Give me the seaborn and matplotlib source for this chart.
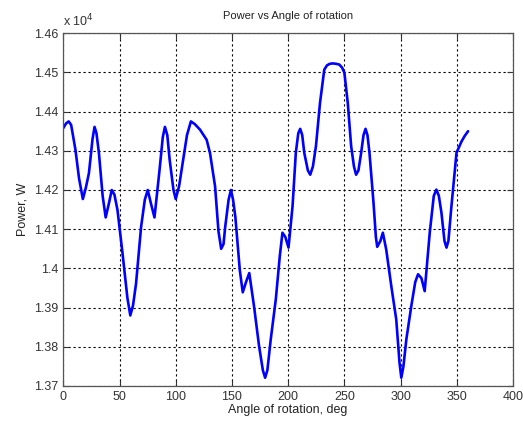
import matplotlib
matplotlib.use("Agg")
import matplotlib.pyplot as plt
import seaborn as sns
import pandas as pd

angle_deg = [0, 2.5, 4.8, 7, 10.8, 14, 17.4, 20, 22.8, 26, 27.8, 29.5, 31.7, 35, 37.7,
             40.5, 43.1, 45.5, 48.2, 52.7, 57, 59.6, 62, 64.7, 69.2, 72.5, 75.1,
             78, 81.1, 85.6, 88.5, 90.4, 92.5, 94.6, 98, 100, 103, 106.6, 110,
             113.5, 117, 121.6, 127.5, 130.5, 135, 138, 140.4, 142.5, 144, 147,
             149.1, 151, 153, 157, 159.6, 162.5, 165.4, 169.6, 174.1, 177.5, 179.5,
             181.5, 184.5, 189, 192.5, 194.9, 197.5, 200.3, 203.9, 206.8, 209, 210.7,
             212.5, 214.3, 217.5, 219.6, 222, 224.7, 228.3, 232.1, 234.5, 237,
             239.6, 242.5, 245.5, 248, 250, 253, 256, 258.5, 260.4, 262.5, 264.9,
             267, 268.8, 270.5, 272.3, 275.9, 278, 279.2, 282, 284.2, 287.2, 291.7,
             296.1, 299, 300.6, 302.5, 305.1, 309.5, 313, 315.5, 318.5, 321.4,
             325.9, 329.5, 331.8, 334, 336.3, 339, 340.8, 342.5, 345.2, 349.7,
             354.2, 357, 360]
power_e4 = [1.4358, 1.4370, 1.4375, 1.4366, 1.4303, 1.4230, 1.4177, 1.4205, 1.4243,
            1.4330, 1.4361, 1.4345, 1.4294, 1.4185, 1.4130, 1.4165, 1.4200, 1.4188,
            1.4149, 1.4038, 1.3925, 1.3880, 1.3905, 1.3961, 1.4106, 1.4175, 1.4200,
            1.4165, 1.4130, 1.4251, 1.4335, 1.4361, 1.4340, 1.4277, 1.4200, 1.4177,
            1.4210, 1.4277, 1.4340, 1.4375, 1.4368, 1.4354, 1.4328, 1.4294, 1.4209,
            1.4095, 1.4050, 1.4062, 1.4106, 1.4175, 1.4200, 1.4175, 1.4132, 1.3995,
            1.3939, 1.3965, 1.3988, 1.3904, 1.3802, 1.3740, 1.3721, 1.3740, 1.3819,
            1.3921, 1.4030, 1.4091, 1.4080, 1.4053, 1.4159, 1.4295, 1.4345, 1.4356,
            1.4340, 1.4295, 1.4250, 1.4239, 1.4260, 1.4312, 1.4422, 1.4507, 1.4518,
            1.4522, 1.4523, 1.4522, 1.4520, 1.4512, 1.4499, 1.4422, 1.4312, 1.4260,
            1.4239, 1.4250, 1.4295, 1.4340, 1.4356, 1.4340, 1.4295, 1.4167, 1.4080,
            1.4055, 1.4070, 1.4091, 1.4048, 1.3955, 1.3870, 1.3760, 1.3721, 1.3750,
            1.3819, 1.3904, 1.3965, 1.3985, 1.3975, 1.3942, 1.4091, 1.4185, 1.4201,
            1.4185, 1.4142, 1.4070, 1.4053, 1.4070, 1.4159, 1.4295, 1.4324, 1.4338,
            1.4350]

x_ticks = [0, 50, 100, 150, 200, 250, 300, 350, 400]
y_ticks = [1.37, 1.38, 1.39, 1.40, 1.41, 1.42, 1.43, 1.44, 1.45, 1.46]
y_ticklabels = ["1.37", "1.38", "1.39", "1.4", "1.41", "1.42", "1.43", "1.44", "1.45", "1.46"]

df = pd.DataFrame({"angle": angle_deg, "power": power_e4})

sns.set_style("white")
plt.rcParams["font.family"] = ["Liberation Sans", "DejaVu Sans"]

fig = plt.figure(figsize=(5.23, 4.26), dpi=100)
ax = fig.add_axes([0.121, 0.094, 0.860, 0.828])
sns.lineplot(data=df, x="angle", y="power", ax=ax, color="#0000ff", linewidth=1.9)

ax.set_xlim(0, 400)
ax.set_ylim(1.37, 1.46)
ax.set_xticks(x_ticks)
ax.set_yticks(y_ticks)
ax.set_yticklabels(y_ticklabels)
ax.grid(True, color="black", linestyle=(0, (2, 2.5)), linewidth=0.8)
ax.tick_params(axis="both", labelsize=9, colors="#333333", direction="in", length=4,
               bottom=True, left=True, top=True, right=True)
for s in ax.spines.values():
    s.set_color("#555555")
    s.set_linewidth(0.9)

ax.set_xlabel("Angle of rotation, deg", fontsize=9, color="#222222", labelpad=1)
ax.set_ylabel("Power, W", fontsize=9, color="#222222", labelpad=4)
ax.set_title("Power vs Angle of rotation", fontsize=8, color="#222222", pad=10)
ax.text(0.0, 1.012, r"x 10$^4$", transform=ax.transAxes, fontsize=9, color="#333333",
        ha="left", va="bottom")

fig.savefig("out.png", dpi=100)
